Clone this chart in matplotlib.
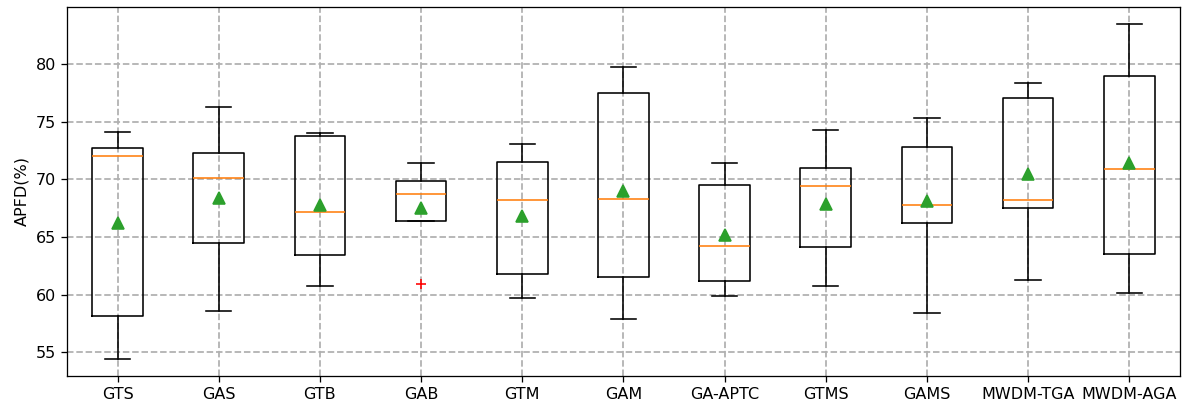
import matplotlib
matplotlib.use("Agg")
import matplotlib.pyplot as plt

labels = ["GTS", "GAS", "GTB", "GAB", "GTM", "GAM", "GA-APTC", "GTMS", "GAMS", "MWDM-TGA", "MWDM-AGA"]
whislo = [54.4, 58.6, 60.7, 66.4, 59.7, 57.9, 59.9, 60.7, 58.4, 61.3, 60.1]
q1 = [58.1, 64.5, 63.4, 66.4, 61.8, 61.5, 61.2, 64.1, 66.2, 67.5, 63.5]
med = [72.0, 70.1, 67.2, 68.7, 68.2, 68.3, 64.2, 69.4, 67.8, 68.2, 70.9]
q3 = [72.7, 72.3, 73.8, 69.9, 71.5, 77.5, 69.5, 71.0, 72.8, 77.1, 79.0]
whishi = [74.1, 76.3, 74.0, 71.4, 73.1, 79.8, 71.4, 74.3, 75.3, 78.4, 83.5]
means = [66.2, 68.4, 67.8, 67.5, 66.8, 69.0, 65.2, 67.9, 68.1, 70.5, 71.4]
fliers = [[], [], [], [60.9], [], [], [], [], [], [], []]

stats = []
for i in range(len(labels)):
    stats.append(dict(label=labels[i], whislo=whislo[i], q1=q1[i], med=med[i],
                      q3=q3[i], whishi=whishi[i], mean=means[i], fliers=fliers[i]))

dpi = 115
fig = plt.figure(figsize=(1187 / dpi, 404 / dpi), dpi=dpi)
ax = fig.add_axes([0.0564, 0.070, 0.9376, 0.912])
ax.bxp(stats, showmeans=True,
       flierprops=dict(marker='+', markeredgecolor='red', markersize=6),
       meanprops=dict(marker='^', markerfacecolor='#2ca02c', markeredgecolor='#2ca02c', markersize=7))
ax.grid(True, linestyle='--', color='#b0b0b0', linewidth=1.1)
ax.set_axisbelow(True)
ax.set_yticks([55, 60, 65, 70, 75, 80])
ax.set_ylabel("APFD(%)")
fig.savefig("out.png", dpi=dpi)
